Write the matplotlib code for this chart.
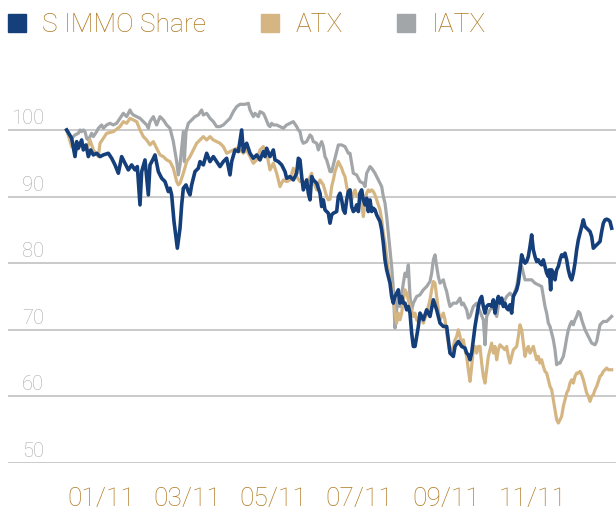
import matplotlib
matplotlib.use("Agg")
import matplotlib.pyplot as plt
from matplotlib.lines import Line2D

# ---------------- data (trading-day index, indexed value) ----------------
simmo_t = [0, 3, 5, 6, 7, 9, 10, 11.6, 13, 14.4, 16, 18, 20, 22, 25, 27, 29, 31, 33, 35, 37, 39, 41, 42.4,
           44, 45, 47, 49, 50, 51.6, 53, 55, 57, 59, 61, 62, 63, 64.4, 66.4, 68, 69, 70, 71.6, 73, 74, 75,
           77, 79, 80, 82, 84, 86, 88, 90, 92, 94, 96, 98, 99, 101, 103, 105, 106, 107, 108, 110, 112,
           114, 116, 118, 119, 120, 122, 124, 125, 127, 129, 131, 132, 134, 136, 138, 139, 140, 141, 142,
           144, 145, 146, 147, 148, 150, 152, 153, 154, 155, 157, 158, 159, 160, 162, 163, 164, 165, 166,
           167, 168, 169, 170, 171, 172, 173, 174, 175, 176, 177, 178, 179, 180, 181, 182, 183, 184, 185,
           186, 187, 188, 189, 190, 191, 192, 193, 194, 195, 196, 197, 198, 199, 200, 201, 202, 203, 204,
           205, 206, 207, 208, 209, 210, 211, 212, 214, 216, 218, 220, 221, 222, 223, 224, 226, 228, 229,
           230, 232, 233, 235, 237, 239, 240, 241, 242, 243, 244, 245, 246, 247, 248, 249, 250, 251, 252,
           253, 254, 255, 256, 257, 258, 259, 260, 261, 262, 263, 264, 265, 266, 267, 268, 270, 271, 272,
           273, 274, 275, 276, 277, 278, 279, 280, 281, 282, 283, 284, 285, 286, 287, 288, 289, 289.6,
           290.4, 291, 292, 293, 294, 295, 296, 297, 298, 299, 300, 301, 302, 303, 304, 305, 306, 307, 308,
           309, 310, 311, 312, 313, 314, 315, 316, 317, 318, 319, 320, 321, 322, 323, 324, 325, 326, 327]
simmo_v = [100, 98.75, 96, 98.25, 97.25, 98.5, 97, 97.75, 96, 97, 96.25, 96.5, 96, 96.25, 96.5, 95.75, 94.75,
           93.5, 96, 95, 94, 94.75, 94, 94.5, 88.75, 93.75, 95.5, 90.25, 94.75, 95.5, 96.25, 93.75, 92.75,
           92.25, 90.75, 91.25, 90.25, 86.25, 82.25, 85.25, 88.75, 91.25, 91.75, 90.75, 90.25, 91.75,
           93.75, 94.25, 95.25, 94.75, 96.5, 95.25, 96, 95.25, 94.5, 95.25, 95.75, 93.25, 95.25, 97,
           96.75, 100, 96.75, 97.5, 98, 96.5, 95.75, 96.25, 95.5, 96.75, 96, 97.25, 96, 97, 95.5, 95.25,
           94.75, 93.75, 92.75, 93, 92.5, 93.5, 95.75, 95.5, 93, 91, 92.5, 90.5, 89.5, 93, 92.5, 92,
           90.5, 88.5, 89.5, 88, 87.5, 86, 87.25, 87.5, 87.75, 90, 90.5, 89.5, 88, 87.5, 89.5, 90.75,
           91, 88.5, 87.75, 88, 88.75, 87.75, 90.5, 91, 89.5, 88.75, 89.75, 87.75, 89.5, 87.75, 88.25,
           88, 87.25, 86.75, 86.25, 85, 83, 80.5, 79, 78, 77, 75, 74, 75, 75.5, 76, 74, 75, 74, 74, 73,
           73.5, 72.5, 69.5, 67.5, 67.5, 69, 70.5, 72.5, 71.5, 73, 72, 74.5, 73.75, 73, 72, 71, 70.5,
           70.5, 68.5, 66.5, 66, 67.5, 68.25, 67.5, 67.25, 66.5, 66.25, 65.5, 66.5, 68.5, 70.5, 72,
           73.5, 74.5, 75, 73.5, 72.5, 73.5, 73.75, 73.75, 73.5, 74.5, 72.5, 74, 75, 74, 74.75, 73.5,
           74, 73.25, 73, 73.75, 72.5, 75, 76, 77, 79, 81.25, 80.5, 80, 80.25, 81, 82.5, 84.25, 82, 81,
           80.25, 80.5, 80, 79.75, 80.5, 79.5, 78.5, 78, 79, 76, 79, 78.5, 77.5, 79, 79.5, 80.5, 81.25,
           81, 81.5, 80.5, 79, 78, 77.5, 78.5, 80, 82, 83.5, 84.5, 85.5, 86.5, 85.5, 85.25, 85, 84.75,
           84, 82.25, 82.5, 82.75, 83, 83.25, 84.75, 86, 86.5, 86.6, 86.5, 86.25, 85.25]

atx_t = [0, 3, 6, 9, 12, 14, 16, 19, 20, 24, 28, 32, 34, 36, 38, 40, 42, 44, 46, 48, 50, 52, 54, 56, 58,
         60, 62, 64, 66, 67, 68, 70, 72, 74, 76, 78, 80, 82, 84, 86, 88, 90, 92, 94, 96, 98, 100, 102,
         104, 106, 108, 110, 112, 114, 116, 118, 120, 122, 124, 126, 128, 129, 130, 132, 134, 136, 138,
         140, 142, 144, 146, 147, 148, 150, 152, 154, 156, 157, 158, 159, 160, 161, 162, 163, 164, 165,
         166, 167, 168, 169, 170, 171, 172, 173, 174, 175, 176, 177, 178, 179, 180, 181, 182, 183, 184,
         185, 186, 187, 188, 189, 190, 191, 192, 193, 194, 195, 196, 197, 198, 199, 200, 201, 202, 203,
         204, 205, 206, 207, 208, 209, 210, 211, 212, 214, 216, 218, 219, 220, 221, 222, 223, 224, 225,
         226, 227, 228, 229, 230, 231, 232, 233, 234, 235, 236, 237, 238, 239, 240, 241, 242, 243, 244,
         245, 246, 247, 248, 249, 250, 251, 252, 253, 254, 255, 256, 257, 258, 259, 260, 261, 262, 263,
         264, 265, 266, 268, 270, 271, 272, 273, 274, 275, 276, 277, 278, 279, 280, 281, 282, 283, 284,
         285, 286, 287, 288, 289, 290, 291, 292, 293, 294, 295, 296, 297, 298, 299, 300, 301, 302, 303,
         304, 305, 306, 307, 308, 309, 310, 311, 312, 313, 314, 315, 316, 317, 318, 319, 320, 321, 322,
         323, 324, 325, 326, 327]
atx_v = [100, 97.5, 97, 98, 97, 98.5, 97, 96, 98, 99.5, 99.75, 100.5, 101.25, 101, 101.75, 101.5, 101.25,
         100, 99, 98.5, 97.75, 98.25, 97.25, 96.25, 96, 95.5, 95.25, 94.25, 92.25, 91.75, 92, 93.5,
         95.25, 96, 97, 98, 98.5, 99, 98.5, 99, 98.5, 98.25, 98, 97.5, 96.5, 96.75, 97, 97.25, 97, 96.5,
         97, 96, 95, 95.5, 97, 97.5, 96.5, 94, 95, 93.5, 91.5, 92, 92.5, 92.25, 92.5, 94.25, 93, 92.25,
         92.25, 91.75, 93, 93.5, 92.25, 91, 92.5, 91.75, 90, 89.5, 89.6, 91.5, 92.5, 93.75, 94.5, 95.25,
         94.75, 94.25, 93.5, 93, 91.5, 90.5, 91, 89.5, 90.5, 91, 90, 90.25, 90.5, 88.75, 87, 89, 90.5,
         91, 90.75, 91, 90.75, 90.25, 89.5, 88.75, 88, 86.5, 84.5, 83, 81, 79, 77.5, 76.5, 74.5, 72.5,
         71, 72.5, 71.5, 72.5, 74.5, 76, 75.5, 74.5, 73.5, 73, 72, 72.5, 71.5, 71.25, 72.5, 71, 72.5,
         74.5, 76, 77.25, 77, 75, 73, 71.5, 72, 72.5, 71.5, 69.5, 68, 66.5, 67, 67.5, 68.5, 69, 70, 69,
         67.5, 68.5, 67, 66, 64, 62.25, 64.5, 67, 67.5, 66.5, 67.5, 67.5, 65, 63, 62, 64, 66, 67, 68,
         66.5, 67.5, 65.5, 67, 67.75, 67.5, 67.25, 67, 67.5, 66, 65, 67, 67.5, 69, 70.75, 70, 68, 66,
         67, 67.5, 66.5, 67, 67.5, 66.5, 65.5, 66, 65, 65.5, 64.5, 63.75, 63.5, 62.5, 61.5, 61, 59.5,
         58, 56.5, 56, 56.5, 57, 58.5, 59.5, 60.5, 61, 62, 62.5, 62, 63, 63.5, 63.5, 63.75, 63.25, 62.5,
         61.5, 60.5, 60, 59.25, 60, 60.25, 61, 61.5, 62.25, 63, 63.25, 63.75, 64, 64.25, 64, 64, 64]

iatx_t = [0, 3, 5, 7, 8, 9, 10, 11, 12, 13, 15, 16, 18, 19, 20, 21, 22, 23, 24, 26, 28, 30, 32, 34, 36, 38,
          39, 40, 42, 44, 46, 48, 49, 50, 52, 54, 56, 58, 60, 62, 64, 66, 67, 68, 69, 70, 70.6, 71.6, 73,
          75, 77, 79, 81, 82, 84, 86, 88, 90, 92, 94, 96, 98, 100, 102, 104, 107, 109, 110, 112, 113,
          115, 116, 118, 119, 121, 122, 123, 124, 126, 128, 130, 132, 134, 136, 138, 139, 140, 141, 142,
          144, 145, 146, 147, 148, 150, 151, 152, 153, 154, 155, 156, 158, 159, 160, 162, 163, 165, 167,
          169, 170, 172, 174, 176, 178, 179, 180, 182, 183, 185, 187, 189, 190, 191, 192, 193, 194, 195,
          196, 197, 198, 199, 200, 202, 203, 204, 205, 206, 207, 208, 210, 212, 214, 216, 218, 219, 220,
          221, 222, 223, 224, 226, 227, 228, 229, 230, 232, 234, 236, 237, 238, 240, 241, 242, 244, 246,
          248, 250, 251, 252, 253, 254, 256, 258, 259, 260, 262, 264, 266, 268, 270, 272, 273, 274, 275,
          277, 279, 281, 283, 285, 286, 287, 288, 289, 290, 291, 292, 293, 294, 295, 296, 297, 298, 299,
          300, 301, 302, 303, 304, 305, 306, 307, 308, 309, 311, 313, 315, 317, 318, 319, 320, 322, 324,
          326, 327]
iatx_v = [100, 98.75, 99.25, 99.5, 100, 99.75, 100, 99.75, 98.75, 98.5, 99.5, 99, 99.75, 100.25, 100.5,
          100.75, 100.25, 100.5, 100.75, 101, 100.75, 101, 101.75, 102.5, 102, 103, 102.5, 102.25, 102,
          101.75, 101.25, 100.75, 100.25, 101.25, 102, 100.75, 102, 101.5, 100.75, 100.25, 98.25, 95.25,
          93.25, 94.75, 97.25, 99.75, 95.25, 99.75, 101, 101.5, 102, 102.25, 103, 102.25, 102.5, 101.75,
          101.25, 100.5, 100.5, 100.75, 101.25, 101.75, 102.75, 103.5, 103.85, 103.85, 104, 103, 102,
          102.5, 102, 102.75, 102.5, 102, 100.75, 100.5, 101, 100.75, 100.75, 100.5, 100.25, 100.75, 101,
          101.25, 100.5, 100, 99.75, 98.5, 98, 98.25, 98.75, 99.25, 99, 98.25, 98, 97, 97.75, 98.25, 97.5,
          96, 95.5, 93.75, 93.75, 94.75, 96.75, 97.75, 97.75, 97.5, 96.5, 96.5, 93.5, 93.25, 92.25, 92,
          91.5, 93.5, 94.5, 94.25, 93.5, 92.5, 91.5, 90, 89, 87, 84.5, 82, 79.5, 76, 70.25, 73, 75, 73.5,
          77, 78.5, 78, 79.75, 75, 73, 74, 75, 75.25, 76, 76.5, 77.25, 78.5, 80.5, 81.25, 79.5, 78, 77,
          77.5, 76.5, 75.75, 74.5, 73.5, 74, 74, 74.75, 73.75, 74, 73, 71.75, 72, 73.5, 74, 72.75, 71.5,
          67.75, 72, 72.5, 73, 73.5, 72, 73.5, 74.5, 74, 75, 75.5, 75, 76.5, 79.5, 79.5, 78.5, 77.5,
          77.5, 77.5, 77, 76.75, 76.5, 75, 73.5, 72.5, 71, 70.5, 69.5, 68.5, 67, 64.75, 65, 65, 65.5, 66,
          67.25, 68.75, 70, 70.75, 71.25, 70.75, 71.5, 72, 72.75, 72.5, 71.5, 70, 69, 68, 67.75, 68.25,
          69.5, 70.75, 71.25, 71.25, 71.75, 72]

series_names = ["S IMMO Share", "ATX", "IATX"]
y_ticks = [50, 60, 70, 80, 90, 100]
x_tick_labels = ["01/11", "03/11", "05/11", "07/11", "09/11", "11/11"]

# ---------------- style ----------------
C_SIMMO = "#143f7a"
C_ATX = "#d5b683"
C_IATX = "#a3a6a9"
C_TEXT = "#b07a22"
C_YLAB = "#a9a9a9"
C_GRID = "#bcbcbc"
FAM = ["Roboto", "DejaVu Sans"]

fig = plt.figure(figsize=(6.16, 5.15), dpi=100)
ax = fig.add_axes([8 / 616, 1 - 463 / 515, 608 / 616, (463 - 70) / 515])
ax.set_xlim(-35.2, 329.6)
ax.set_ylim(50, 109)

ax.plot(iatx_t, iatx_v, color=C_IATX, lw=2.3, solid_joinstyle="round", zorder=2)
ax.plot(atx_t, atx_v, color=C_ATX, lw=2.3, solid_joinstyle="round", zorder=3)
ax.plot(simmo_t, simmo_v, color=C_SIMMO, lw=2.6, solid_joinstyle="round", zorder=4)

for s in ax.spines.values():
    s.set_visible(False)

ax.set_yticks(y_ticks)
ax.yaxis.grid(True, color=C_GRID, lw=1.1)
ax.set_axisbelow(True)
ax.tick_params(axis="y", length=0, labelleft=False)
for v in y_ticks:
    ax.text(0.0592, v + 0.9, str(v), transform=ax.get_yaxis_transform(), ha="right",
            va="baseline", fontsize=14.5, color=C_YLAB, family=FAM, weight="light")

x_tick_pos = [20.6 + 51.75 * i for i in range(len(x_tick_labels))]
ax.set_xticks(x_tick_pos)
ax.set_xticklabels(x_tick_labels, fontsize=19, color=C_TEXT, family=FAM, weight="light")
ax.tick_params(axis="x", length=0, pad=17)

handles = [Line2D([], [], marker="s", ls="none", markersize=13, markerfacecolor=c, markeredgecolor=c)
           for c in (C_SIMMO, C_ATX, C_IATX)]
leg = fig.legend(handles, series_names, loc="upper left", bbox_to_anchor=(7.5 / 616, 1 - 13 / 515),
                 ncol=3, frameon=False, handlelength=0.72, handletextpad=0.6, columnspacing=2.05,
                 borderaxespad=0, borderpad=0,
                 prop={"family": FAM, "weight": "light", "size": 19})
for t in leg.get_texts():
    t.set_color(C_TEXT)

fig.savefig("out.png", dpi=100)
